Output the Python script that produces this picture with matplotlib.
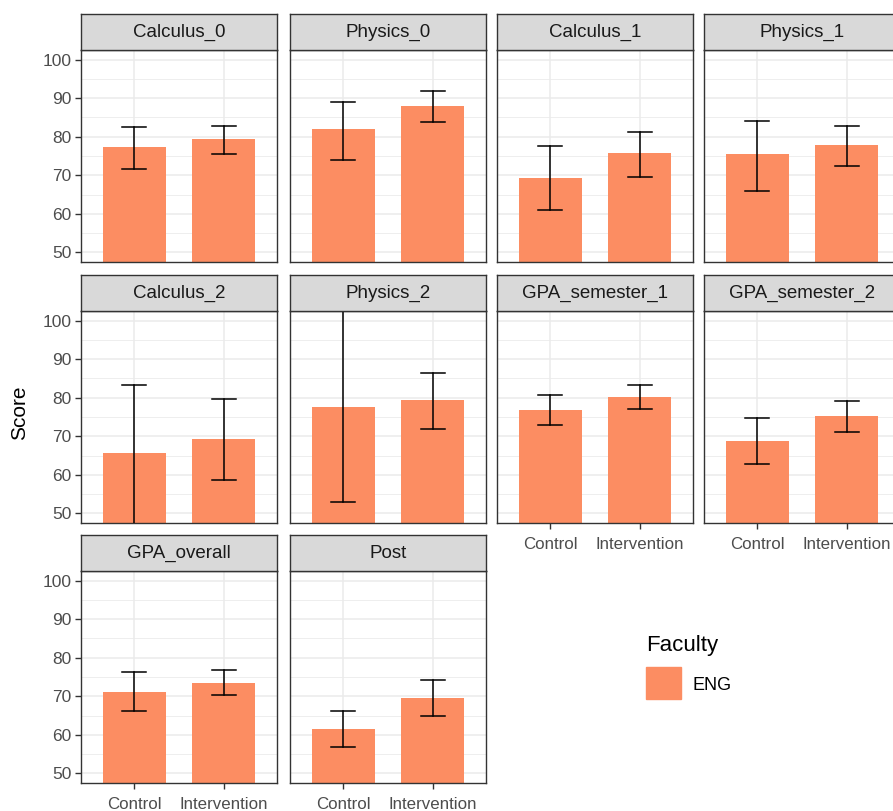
import matplotlib
matplotlib.use("Agg")
import matplotlib.pyplot as plt
from matplotlib.patches import Rectangle
import numpy as np

plt.rcParams['font.family'] = ['Liberation Sans', 'DejaVu Sans']

# data
facets = ['Calculus_0', 'Physics_0', 'Calculus_1', 'Physics_1',
          'Calculus_2', 'Physics_2', 'GPA_semester_1', 'GPA_semester_2',
          'GPA_overall', 'Post']
groups = ['Control', 'Intervention']
mean_control = [77.4, 81.9, 69.2, 75.4, 65.6, 77.7, 76.9, 68.8, 71.1, 61.5]
mean_interv = [79.4, 88.0, 75.7, 77.8, 69.3, 79.3, 80.1, 75.3, 73.5, 69.6]
low_control = [71.6, 74.0, 61.1, 65.9, 46.0, 53.0, 72.8, 62.7, 66.1, 56.9]
high_control = [82.6, 89.0, 77.7, 84.1, 83.2, 104.0, 80.7, 74.7, 76.2, 66.1]
low_interv = [75.6, 83.7, 69.5, 72.4, 58.7, 71.9, 77.1, 71.1, 70.3, 65.0]
high_interv = [82.9, 91.9, 81.3, 82.9, 79.6, 86.3, 83.2, 79.2, 76.7, 74.2]
faculty = 'ENG'

bar_col = '#FC8D62'
W, H = 893, 811
fig = plt.figure(figsize=(W / 100, H / 100), dpi=100)

col_x = [81, 290, 497, 704]
row_top = [14, 275, 535]
pw, strip_h, ph = 196, 36, 212


def px_axes(x, y, w, h):
    return fig.add_axes([x / W, 1 - (y + h) / H, w / W, h / H])


for i, name in enumerate(facets):
    r, c = divmod(i, 4)
    x0 = col_x[c]
    y0 = row_top[r]
    ax = px_axes(x0, y0 + strip_h, pw, ph)
    xs = np.arange(1, 3)
    means = [mean_control[i], mean_interv[i]]
    lows = [low_control[i], low_interv[i]]
    highs = [high_control[i], high_interv[i]]
    ax.set_axisbelow(True)
    ax.bar(xs, means, width=0.7, color=bar_col, zorder=2)
    for xv, lo, hi in zip(xs, lows, highs):
        ax.plot([xv, xv], [lo, hi], color='black', lw=1.1, zorder=3)
        ax.plot([xv - 0.135, xv + 0.135], [lo, lo], color='black', lw=1.1, zorder=3)
        ax.plot([xv - 0.135, xv + 0.135], [hi, hi], color='black', lw=1.1, zorder=3)
    ax.set_xlim(0.4, 2.6)
    ax.set_ylim(47.5, 102.5)
    ax.set_yticks([50, 60, 70, 80, 90, 100])
    ax.set_yticks([55, 65, 75, 85, 95], minor=True)
    ax.set_xticks(xs)
    ax.set_xticklabels(groups)
    ax.grid(which='major', color='#EBEBEB', lw=1.1)
    ax.grid(which='minor', axis='y', color='#EBEBEB', lw=0.6)
    for s in ax.spines.values():
        s.set_color('#333333')
        s.set_linewidth(1.0)
    ax.tick_params(which='minor', length=0)
    ax.tick_params(which='major', color='#333333', length=4, width=1.0,
                   labelcolor='#4D4D4D', pad=3)
    ax.tick_params(axis='y', labelsize=12.5)
    ax.tick_params(axis='x', labelsize=12.2, pad=6)
    if c != 0:
        ax.tick_params(axis='y', left=False, labelleft=False)
    bottom_row = (r == 2) or (r == 1 and c >= 2)
    if not bottom_row:
        ax.tick_params(axis='x', bottom=False, labelbottom=False)

    sax = px_axes(x0, y0, pw, strip_h)
    sax.set_facecolor('#D9D9D9')
    sax.set_xticks([])
    sax.set_yticks([])
    for s in sax.spines.values():
        s.set_color('#333333')
        s.set_linewidth(1.0)
    sax.text(0.5, 0.5, name, ha='center', va='center', fontsize=13.5,
             color='#1A1A1A', transform=sax.transAxes)

fig.text(20 / W, 1 - 413 / H, 'Score', rotation=90, ha='center', va='center',
         fontsize=15, color='black')

# legend
fig.text(646 / W, 1 - 645 / H, 'Faculty', ha='left', va='center', fontsize=16)
fig.patches.append(Rectangle((646 / W, 1 - 699 / H), 35 / W, 32 / H,
                             transform=fig.transFigure, color=bar_col))
fig.text(693 / W, 1 - 685 / H, faculty, ha='left', va='center', fontsize=13)

fig.savefig('out.png', dpi=100)
